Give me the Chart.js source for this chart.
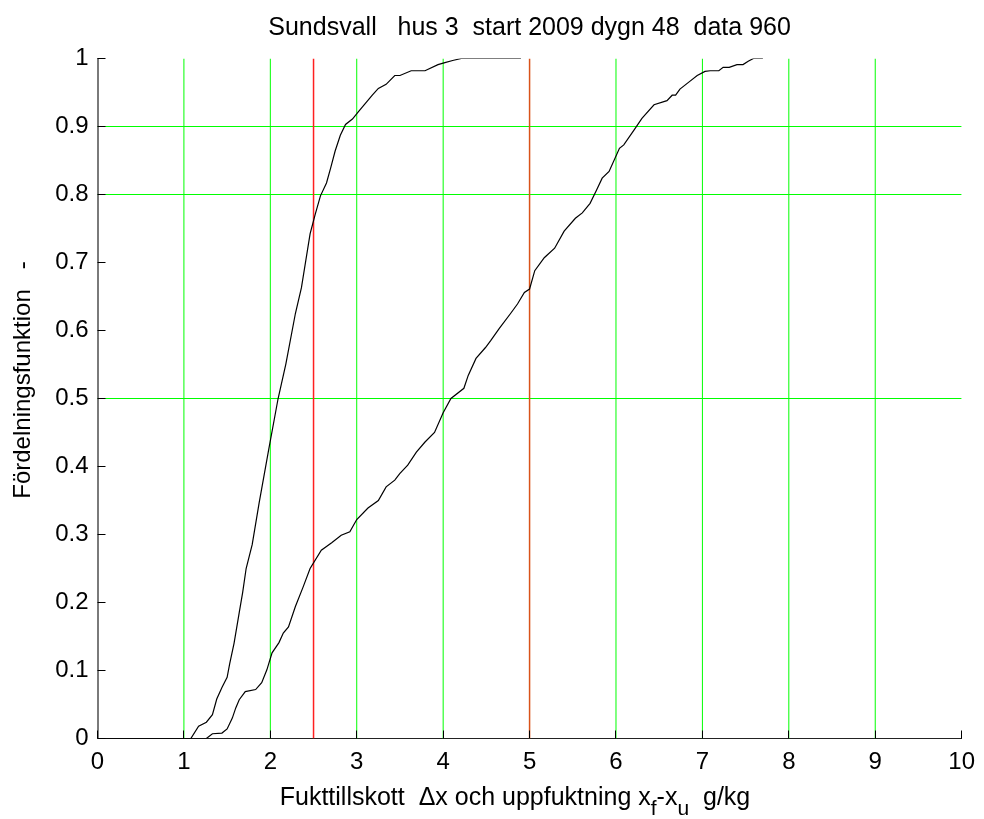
<!DOCTYPE html>
<html>
<head>
<meta charset="utf-8">
<script src="https://cdn.jsdelivr.net/npm/chart.js@4.4.1/dist/chart.umd.min.js"></script>
<style>
  html, body { margin: 0; padding: 0; background: #fff; }
</style>
</head>
<body>
<canvas id="cdf" width="984" height="819"></canvas>
<script>
const titleText = "Sundsvall   hus 3  start 2009 dygn 48  data 960"
const yLabel = "Fördelningsfunktion   -"

const xTicks = [0, 1, 2, 3, 4, 5, 6, 7, 8, 9, 10]
const xTickLabels = ["0", "1", "2", "3", "4", "5", "6", "7", "8", "9", "10"]
const yTicks = [0, 0.1, 0.2, 0.3, 0.4, 0.5, 0.6, 0.7, 0.8, 0.9, 1]
const yTickLabels = ["0", "0.1", "0.2", "0.3", "0.4", "0.5", "0.6", "0.7", "0.8", "0.9", "1"]

// fukttillskott (delta x)
const dxX = [0, 1.08, 1.17, 1.26, 1.33, 1.38, 1.44, 1.50, 1.53, 1.58, 1.64, 1.68, 1.72, 1.79, 1.87, 1.98, 2.09, 2.18, 2.29, 2.36, 2.46, 2.52, 2.58, 2.65, 2.70, 2.75, 2.81, 2.87, 2.95, 3.02, 3.10, 3.18, 3.25, 3.34, 3.44, 3.50, 3.63, 3.79, 3.94, 4.02, 4.11, 4.21, 4.90]
const dxY = [0, 0, 0.018, 0.024, 0.035, 0.058, 0.075, 0.09, 0.11, 0.14, 0.185, 0.215, 0.25, 0.285, 0.346, 0.424, 0.5, 0.551, 0.625, 0.663, 0.742, 0.771, 0.798, 0.817, 0.84, 0.864, 0.887, 0.903, 0.911, 0.922, 0.934, 0.946, 0.956, 0.962, 0.975, 0.975, 0.982, 0.982, 0.991, 0.994, 0.997, 1.0, 1.0]

// uppfuktning xf - xu
const upX = [0, 1.26, 1.33, 1.44, 1.50, 1.56, 1.60, 1.64, 1.71, 1.83, 1.90, 1.96, 2.02, 2.10, 2.15, 2.21, 2.29, 2.38, 2.46, 2.59, 2.71, 2.82, 2.92, 3.00, 3.13, 3.25, 3.34, 3.44, 3.50, 3.59, 3.69, 3.79, 3.90, 4.00, 4.09, 4.24, 4.29, 4.38, 4.49, 4.55, 4.65, 4.78, 4.86, 4.94, 5.00, 5.06, 5.17, 5.29, 5.40, 5.53, 5.61, 5.70, 5.77, 5.84, 5.92, 6.04, 6.09, 6.22, 6.30, 6.44, 6.59, 6.65, 6.69, 6.74, 6.85, 6.94, 7.03, 7.09, 7.19, 7.24, 7.31, 7.40, 7.47, 7.53, 7.59, 7.70]
const upY = [0, 0, 0.007, 0.008, 0.014, 0.03, 0.045, 0.057, 0.069, 0.072, 0.082, 0.101, 0.126, 0.141, 0.155, 0.164, 0.194, 0.223, 0.25, 0.277, 0.288, 0.299, 0.304, 0.322, 0.339, 0.35, 0.37, 0.38, 0.39, 0.402, 0.421, 0.436, 0.45, 0.479, 0.5, 0.515, 0.534, 0.559, 0.575, 0.585, 0.603, 0.625, 0.639, 0.656, 0.661, 0.688, 0.707, 0.721, 0.746, 0.765, 0.773, 0.787, 0.805, 0.824, 0.834, 0.868, 0.873, 0.897, 0.912, 0.932, 0.938, 0.946, 0.946, 0.955, 0.966, 0.975, 0.981, 0.982, 0.982, 0.987, 0.987, 0.991, 0.991, 0.996, 1.0, 1.0]

// reference lines
const greenX = [1, 2, 3, 4, 6, 7, 8, 9]
const greenY = [0.5, 0.8, 0.9]
const redX = [2.5]
const orangeX = [5]

const FONT = "'Liberation Sans', Arial, Helvetica, sans-serif"
Chart.defaults.font.family = FONT
Chart.defaults.font.size = 24
Chart.defaults.color = '#000'

const curve = (xs, ys) => xs.map((x, i) => ({ x, y: ys[i] }))
const line = (data, color, w = 1) => ({
  data, borderColor: color, borderWidth: w, pointRadius: 0, showLine: true, tension: 0, fill: false
})

const datasets = [
  line(curve(dxX, dxY), '#000', 1.2),
  line(curve(upX, upY), '#000', 1.2),
  ...redX.map(v => line([{ x: v, y: 0 }, { x: v, y: 1 }], '#ff2020', 1.5)),
  ...orangeX.map(v => line([{ x: v, y: 0 }, { x: v, y: 1 }], '#d95319', 1.5)),
  ...greenX.map(v => line([{ x: v, y: 0 }, { x: v, y: 1 }], '#00ff00')),
  ...greenY.map(v => line([{ x: 0, y: v }, { x: 10, y: v }], '#00ff00'))
]

// title, y label, inward tick marks and the x label with subscripts
const axisDecor = {
  id: 'axisDecor',
  afterDraw(chart) {
    const { ctx, chartArea, scales: { x, y } } = chart
    const midX = (chartArea.left + chartArea.right) / 2
    ctx.save()
    ctx.strokeStyle = '#000'
    ctx.lineWidth = 1
    ctx.beginPath()
    y.ticks.forEach(t => {
      const py = Math.floor(y.getPixelForValue(t.value)) + 0.5
      ctx.moveTo(chartArea.left, py)
      ctx.lineTo(chartArea.left + 8, py)
    })
    x.ticks.forEach(t => {
      const px = Math.floor(x.getPixelForValue(t.value)) + 0.5
      ctx.moveTo(px, chartArea.bottom)
      ctx.lineTo(px, chartArea.bottom - 8)
    })
    ctx.stroke()

    ctx.fillStyle = '#000'
    ctx.font = "25px " + FONT
    ctx.textAlign = 'center'
    ctx.textBaseline = 'middle'
    ctx.fillText(titleText, midX, 28)

    ctx.save()
    ctx.translate(23, 380)
    ctx.rotate(-Math.PI / 2)
    ctx.font = "24px " + FONT
    ctx.fillText(yLabel, 0, 0)
    ctx.restore()

    const parts = [
      { t: "Fukttillskott  \u0394x och uppfuktning x", sub: false },
      { t: "f", sub: true },
      { t: "-x", sub: false },
      { t: "u", sub: true },
      { t: "  g/kg", sub: false }
    ]
    const big = "25px " + FONT, small = "21px " + FONT
    let total = 0
    parts.forEach(p => { ctx.font = p.sub ? small : big; p.w = ctx.measureText(p.t).width; total += p.w })
    let cx = 515 - total / 2
    const base = 805
    ctx.textBaseline = 'alphabetic'
    ctx.textAlign = 'left'
    parts.forEach(p => {
      ctx.font = p.sub ? small : big
      ctx.fillText(p.t, cx, p.sub ? base + 10 : base)
      cx += p.w
    })
    ctx.restore()
  }
}

new Chart(document.getElementById('cdf'), {
  type: 'scatter',
  data: { datasets },
  plugins: [axisDecor],
  options: {
    responsive: false,
    animation: false,
    layout: { padding: { left: 0, right: 16.5, top: 58.5, bottom: 0 } },
    plugins: {
      legend: { display: false },
      tooltip: { enabled: false },
      title: { display: false }
    },
    scales: {
      x: {
        type: 'linear',
        min: 0,
        max: 10,
        afterBuildTicks: s => { s.ticks = xTicks.map(v => ({ value: v })) },
        afterFit: s => { s.height = 80.5 },
        grid: { display: false, drawTicks: false },
        border: { display: true, color: '#222', width: 1 },
        ticks: {
          autoSkip: false,
          maxRotation: 0,
          padding: 9,
          callback: (v, i) => xTickLabels[i]
        }
      },
      y: {
        type: 'linear',
        min: 0,
        max: 1,
        afterBuildTicks: s => { s.ticks = yTicks.map(v => ({ value: v })) },
        afterFit: s => { s.width = 97.5 },
        grid: { display: false, drawTicks: false },
        border: { display: true, color: '#7a7a7a', width: 2 },
        ticks: {
          autoSkip: false,
          padding: 9,
          callback: (v, i) => yTickLabels[i]
        }
      }
    }
  }
})
</script>
</body>
</html>
